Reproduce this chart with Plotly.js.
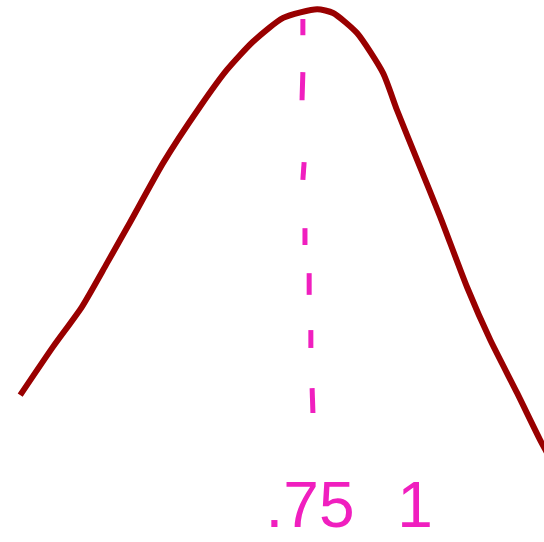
<!DOCTYPE html>
<html>
<head>
<meta charset="utf-8">
<script src="https://cdn.plot.ly/plotly-3.0.1.min.js"></script>
<style>
  html, body { margin: 0; padding: 0; background: #fff; }
  #chart { width: 544px; height: 542px; }
</style>
</head>
<body>
<div id="chart"></div>
<script>
// hand drawn bell curve
var curveX = [0.060, 0.138, 0.207, 0.267, 0.321, 0.400, 0.488, 0.552, 0.614, 0.686,
  0.767, 0.805, 0.862, 0.924, 0.957, 1.005, 1.060, 1.124, 1.179, 1.243, 1.298, 1.317];
var curveY = [0.271, 0.360, 0.434, 0.515, 0.589, 0.699, 0.803, 0.871, 0.923, 0.967,
  0.983, 0.976, 0.939, 0.865, 0.797, 0.705, 0.600, 0.470, 0.373, 0.275, 0.188, 0.161];

// dashes of the vertical marker at .75 (start, end of each stroke)
var dashX = [0.733, 0.733, null, 0.733, 0.731, null, 0.736, 0.733, null, 0.738, 0.738, null,
  0.748, 0.748, null, 0.752, 0.752, null, 0.755, 0.757];
var dashY = [0.965, 0.935, null, 0.867, 0.815, null, 0.701, 0.668, null, 0.579, 0.548, null,
  0.496, 0.456, null, 0.391, 0.358, null, 0.284, 0.238];

var tickVals = [0.75, 1];
var tickText = [".75", "1"];

var red = "#990000";
var pink = "#f01fbf";

var data = [
  {
    x: curveX,
    y: curveY,
    mode: "lines",
    line: { color: red, width: 6, shape: "spline", smoothing: 0.6 },
    cliponaxis: false,
    hoverinfo: "skip"
  },
  {
    x: dashX,
    y: dashY,
    mode: "lines",
    line: { color: pink, width: 5 },
    connectgaps: false,
    hoverinfo: "skip"
  }
];

var layout = {
  width: 544,
  height: 542,
  margin: { l: 0, r: 0, t: 0, b: 80 },
  paper_bgcolor: "#fff",
  plot_bgcolor: "#fff",
  showlegend: false,
  xaxis: {
    range: [0.0119, 1.3071],
    showgrid: false,
    zeroline: false,
    showline: false,
    ticks: "",
    tickvals: tickVals,
    ticktext: tickText,
    tickfont: { family: "Liberation Sans", size: 64, color: pink },
    fixedrange: true
  },
  yaxis: {
    range: [0.1476, 1],
    visible: false,
    fixedrange: true
  }
};

Plotly.newPlot("chart", data, layout, { displayModeBar: false, staticPlot: true });
</script>
</body>
</html>
